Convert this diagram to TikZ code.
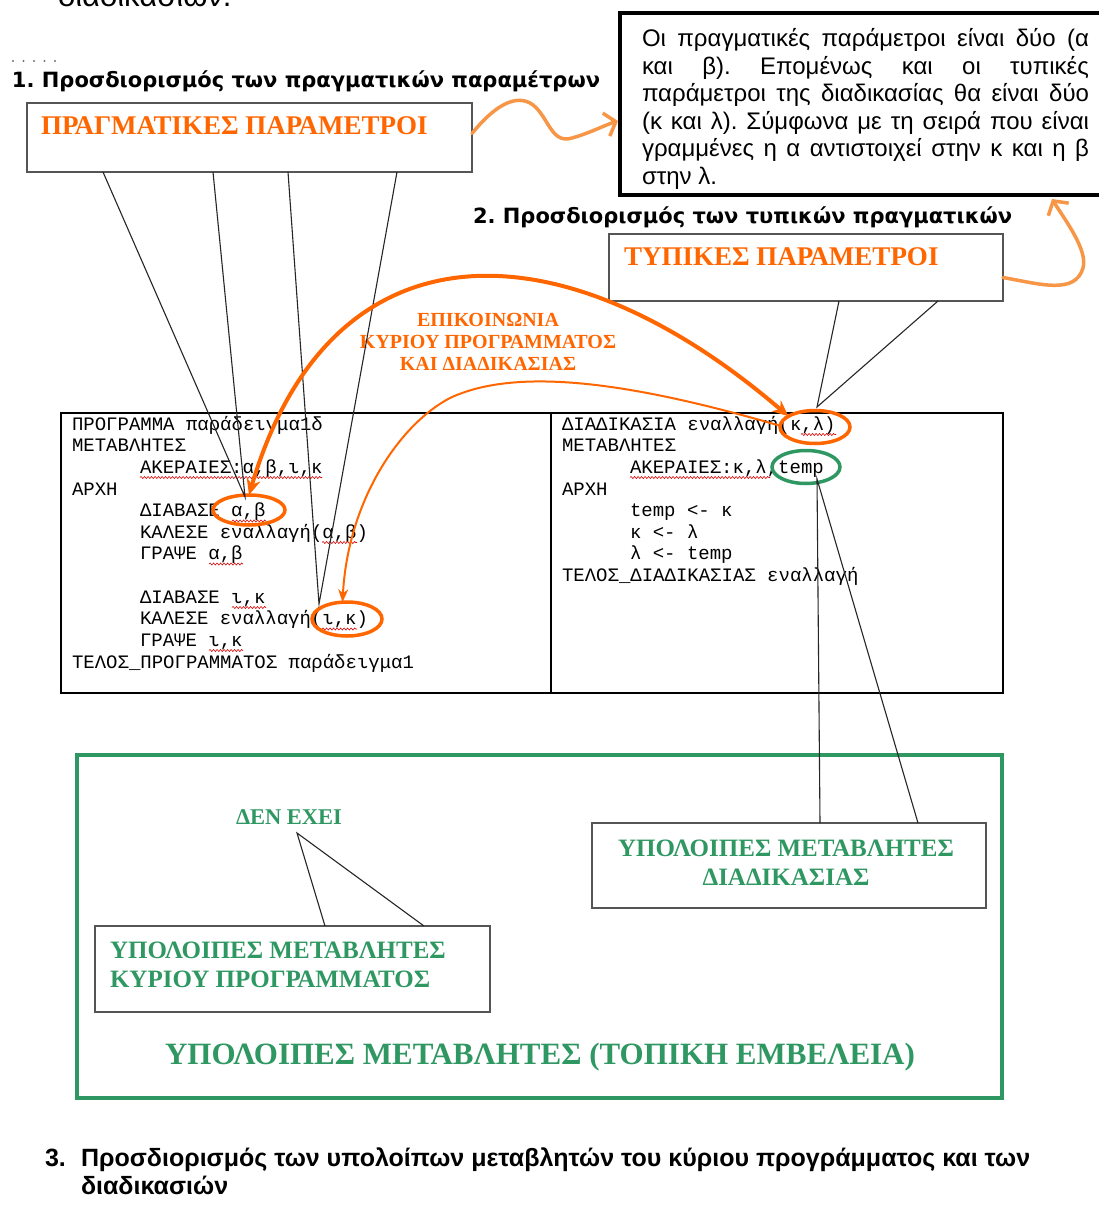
\documentclass[tikz,border=0pt]{standalone}
\usepackage{fontspec}
\setmainfont{Liberation Serif}
\newfontfamily\arialfont{Liberation Sans}
\newfontfamily\headfont{DejaVu Sans}
\newfontfamily\codefont{Liberation Mono}
\usetikzlibrary{arrows.meta,shapes.geometric,decorations.pathmorphing,calc}
\definecolor{hot}{RGB}{255,102,0}
\definecolor{soft}{RGB}{247,150,70}
\definecolor{leaf}{RGB}{47,152,98}
\definecolor{frame}{RGB}{85,85,85}
\frenchspacing
\begin{document}
\begin{tikzpicture}[x=1pt,y=-1pt,
  txt/.style={inner sep=0pt, outer sep=0pt},
  callbox/.style={draw=frame, line width=2pt, rectangle, inner sep=0pt, outer sep=0pt, anchor=north west},
  pointer/.style={draw=black!85, line width=1.1pt, line join=miter},
  hotlabel/.style={txt, anchor=base west, text=hot, font=\bfseries\fontsize{27}{27}\selectfont},
  greenlabel/.style={txt, text=leaf, font=\bfseries\fontsize{25}{29}\selectfont},
  headline/.style={txt, anchor=base west, font=\headfont\bfseries\fontsize{21}{21}\selectfont},
  lastline/.style={txt, anchor=base west, font=\arialfont\bfseries\fontsize{25}{25}\selectfont},
  code/.style={txt, anchor=base west, font=\codefont\fontsize{19}{19}\selectfont},
  squig/.style={draw=red!85!black, line width=0.6pt, decorate, decoration={snake, amplitude=1pt, segment length=3.5pt}},
  ring/.style={ellipse, draw=hot, line width=3.5pt, inner sep=0pt, outer sep=0pt},
  wave/.style={draw=soft, line width=3.5pt, line cap=round, line join=round, -{Straight Barb[length=10pt, width=24pt]}},
  bigarc/.style={draw=hot, line width=4pt, {Stealth[length=16pt, width=14pt]}-{Stealth[length=16pt, width=14pt]}},
  thinarc/.style={draw=hot, line width=2pt, -{Stealth[length=13pt, width=10pt]}},
]
\useasboundingbox (0,0) rectangle (1099,1209);
\fill[white] (0,0) rectangle (1099,1209);
\clip (0,0) rectangle (1099,1209);

% tail of the preceding line and a row of dots
\node[txt, anchor=base west, font=\arialfont\fontsize{31}{31}\selectfont] (prevline) at (58,7) {διαδικασιών.};
\foreach \k in {0,...,4} \fill[black!55] (13+\k*10.5,61) circle (1.1);

% headings
\node[headline] (head1) at (12,88) {1. Προσδιορισμός των πραγματικών παραμέτρων};
\node[headline] (head2) at (473,223) {2. Προσδιορισμός των τυπικών πραγματικών};
\node[lastline] (head3n) at (45,1166) {3.};
\node[lastline] (head3a) at (81,1166) {Προσδιορισμός των υπολοίπων μεταβλητών του κύριου προγράμματος και των};
\node[lastline] (head3b) at (81,1194) {διαδικασιών};

% explanatory note, top right
\node[draw=black, line width=4pt, rectangle, inner sep=0pt, outer sep=0pt, anchor=north west,
      minimum width=500pt, minimum height=182pt] (note) at (620,13) {};
\node[txt, anchor=north west, text width=447pt, align=justify,
      font=\arialfont\fontsize{24}{27.5}\selectfont] (notetext) at (642,27.75)
  {\strut Οι πραγματικές παράμετροι είναι δύο (α\linebreak
   και β). Επομένως και οι τυπικές\linebreak
   παράμετροι της διαδικασίας θα είναι δύο\linebreak
   (κ και λ). Σύμφωνα με τη σειρά που είναι\linebreak
   γραμμένες η α αντιστοιχεί στην κ και η β\linebreak
   στην λ.};

% callout: actual parameters
\node[callbox, line width=2.6pt, minimum width=445pt, minimum height=69pt] (pbox) at (27,103) {};
\node[hotlabel] (plabel) at (41,135) {ΠΡΑΓΜΑΤΙΚΕΣ ΠΑΡΑΜΕΤΡΟΙ};

% callout: formal parameters
\node[callbox, minimum width=394pt, minimum height=67pt] (tbox) at (609,234) {};
\node[hotlabel] (tlabel) at (624,265) {ΤΥΠΙΚΕΣ ΠΑΡΑΜΕΤΡΟΙ};

% caption of the communication arc (base = last line)
\node[txt, text=hot, align=center, font=\bfseries\fontsize{20}{22}\selectfont, anchor=base] (commlabel) at (488,370)
  {ΕΠΙΚΟΙΝΩΝΙΑ\\ΚΥΡΙΟΥ ΠΡΟΓΡΑΜΜΑΤΟΣ\\ΚΑΙ ΔΙΑΔΙΚΑΣΙΑΣ};

% code table
\node[draw=black, line width=1.4pt, rectangle, inner sep=0pt, outer sep=0pt, anchor=north west,
      minimum width=490pt, minimum height=280pt] (maincell) at (61,413) {};
\node[draw=black, line width=1.4pt, rectangle, inner sep=0pt, outer sep=0pt, anchor=north west,
      minimum width=452pt, minimum height=280pt] (proccell) at (551,413) {};

% main program
\node[code] (m1)  at (72,430)    {ΠΡΟΓΡΑΜΜΑ παράδειγμα1δ};
\node[code] (m2)  at (72,451.7)  {ΜΕΤΑΒΛΗΤΕΣ};
\node[code] (m3)  at (140,473.3) {ΑΚΕΡΑΙΕΣ:α,β,ι,κ};
\node[code] (m4)  at (72,495)    {ΑΡΧΗ};
\node[code] (m5)  at (140,516.6) {ΔΙΑΒΑΣΕ α,β};
\node[code] (m6)  at (140,538.3) {ΚΑΛΕΣΕ εναλλαγή(α,β)};
\node[code] (m7)  at (140,559.9) {ΓΡΑΨΕ α,β};
\node[code] (m8)  at (140,603.2) {ΔΙΑΒΑΣΕ ι,κ};
\node[code] (m9)  at (140,624.9) {ΚΑΛΕΣΕ εναλλαγή(ι,κ)};
\node[code] (m10) at (140,646.5) {ΓΡΑΨΕ ι,κ};
\node[code] (m11) at (72,668.2)  {ΤΕΛΟΣ\_ΠΡΟΓΡΑΜΜΑΤΟΣ παράδειγμα1};

% procedure
\node[code] (p1) at (562,430)   {ΔΙΑΔΙΚΑΣΙΑ εναλλαγή(κ,λ)};
\node[code] (p2) at (562,451.7) {ΜΕΤΑΒΛΗΤΕΣ};
\node[code] (p3) at (630,473.3) {ΑΚΕΡΑΙΕΣ:κ,λ,temp};
\node[code] (p4) at (562,495)   {ΑΡΧΗ};
\node[code] (p5) at (630,516.6) {temp <- κ};
\node[code] (p6) at (630,538.3) {κ <- λ};
\node[code] (p7) at (630,559.9) {λ <- temp};
\node[code] (p8) at (562,581.6) {ΤΕΛΟΣ\_ΔΙΑΔΙΚΑΣΙΑΣ εναλλαγή};

% spell-check squiggles under the variable lists
\draw[squig] (140,477.5) -- (322,477.5);
\draw[squig] (232,521) -- (266,521);
\draw[squig] (322,542.5) -- (357,542.5);
\draw[squig] (209,564) -- (243,564);
\draw[squig] (232,607.5) -- (266,607.5);
\draw[squig] (322,629) -- (357,629);
\draw[squig] (209,650.5) -- (243,650.5);
\draw[squig] (801,434.5) -- (836,434.5);
\draw[squig] (630,477.5) -- (770,477.5);

% circled arguments
\node[ring, minimum width=72pt, minimum height=30pt] (ringab) at (249,510) {};
\node[ring, minimum width=70pt, minimum height=34pt] (ringik) at (347,619) {};
\node[ring, minimum width=70pt, minimum height=33pt] (ringkl) at (815,427) {};
\node[ring, draw=leaf, minimum width=68pt, minimum height=33pt] (ringtemp) at (806,467) {};

% pointers of the actual-parameter callout
\coordinate (tipab) at (245,497);
\coordinate (tipik) at (319,604);
\draw[pointer] ($(pbox.south west)+(76,0)$) -- (tipab) -- ($(pbox.south west)+(186,0)$);
\draw[pointer] ($(pbox.south west)+(261,0)$) -- (tipik) -- ($(pbox.south west)+(370,0)$);

% pointer of the formal-parameter callout
\coordinate (tipkl) at (817,407);
\draw[pointer] ($(tbox.south west)+(230,0)$) -- (tipkl) -- ($(tbox.south west)+(329,0)$);

% arcs joining arguments and parameters
\draw[bigarc] (ringab.north) .. controls (330,220) and (560,220) .. (ringkl.158);
\draw[thinarc] (ringkl.178) .. controls (640,385) and (520,365) .. (450,398)
               .. controls (400,424) and (348,500) .. (ringik.105);

% wavy arrows towards the note
\draw[wave] ($(pbox.east)+(0,-4)$) .. controls (495,105) and (515,95) .. (530,103)
            .. controls (548,113) and (550,145) .. (572,138)
            .. controls (590,133) and (605,125) .. ($(note.north west)+(-2,108)$);
\draw[wave] ($(tbox.east)+(0,10)$) .. controls (1040,284) and (1075,295) .. (1083,268)
            .. controls (1088,250) and (1065,220) .. ($(note.south west)+(432,4)$);

% local variables
\node[draw=leaf, line width=3.5pt, rectangle, inner sep=0pt, outer sep=0pt, anchor=north west,
      minimum width=925pt, minimum height=343pt] (scopebox) at (77,755) {};
\node[txt, anchor=base, text=leaf, font=\bfseries\fontsize{31}{31}\selectfont] (scopelabel) at (540,1064)
  {ΥΠΟΛΟΙΠΕΣ ΜΕΤΑΒΛΗΤΕΣ (ΤΟΠΙΚΗ ΕΜΒΕΛΕΙΑ)};

\node[callbox, minimum width=394pt, minimum height=85pt] (pvbox) at (592,823) {};
\node[greenlabel, anchor=base, align=center] (pvlabel) at (786,885) {ΥΠΟΛΟΙΠΕΣ ΜΕΤΑΒΛΗΤΕΣ\\ΔΙΑΔΙΚΑΣΙΑΣ};
\coordinate (temptip) at (817,479);
\draw[pointer] ($(pvbox.north west)+(228,0)$) -- (temptip) -- ($(pvbox.north west)+(326,0)$);

\node[callbox, minimum width=395pt, minimum height=86pt] (mvbox) at (95,926) {};
\node[greenlabel, anchor=base west, align=left] (mvlabel) at (110,987) {ΥΠΟΛΟΙΠΕΣ ΜΕΤΑΒΛΗΤΕΣ\\ΚΥΡΙΟΥ ΠΡΟΓΡΑΜΜΑΤΟΣ};
\node[txt, anchor=base west, text=leaf, font=\bfseries\fontsize{22.5}{22.5}\selectfont] (nonelabel) at (236,824) {ΔΕΝ ΕΧΕΙ};
\coordinate (nonetip) at (297,833);
\draw[pointer] ($(mvbox.north west)+(230,0)$) -- (nonetip) -- ($(mvbox.north west)+(329,0)$);
\end{tikzpicture}
\end{document}
